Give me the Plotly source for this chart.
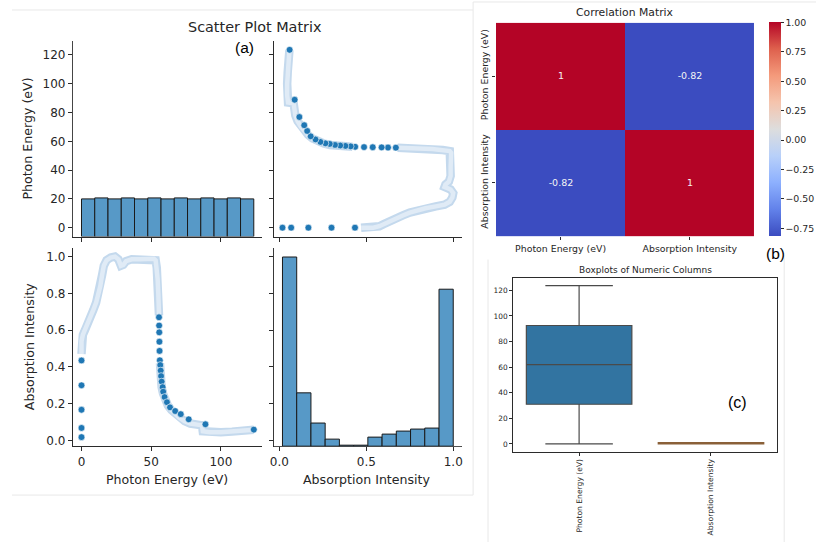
import numpy as np
import plotly.graph_objects as go

W, H = 817, 543

# ---------------- data ----------------
# isolated (sparse) observations
photon_energy_dots = [0.0, 0.0, 0.0, 0.0, 0.0,
                      55.6, 55.7, 55.8, 55.9, 56.0, 56.2,
                      56.5, 56.8, 57.1, 57.5, 58.2, 58.6, 59.6, 61.3, 63.5,
                      67.2, 71.2, 76.9, 88.9, 123.6]
absorption_dots = [0.018, 0.068, 0.167, 0.300, 0.435,
                   0.670, 0.625, 0.588, 0.537, 0.487, 0.436,
                   0.410, 0.380, 0.350, 0.320, 0.290, 0.265, 0.236, 0.208, 0.180,
                   0.160, 0.143, 0.115, 0.088, 0.059]

# densely sampled part of the curve (overlapping markers -> pale band)
photon_energy_band = [0.0, 0.0, 1.0, 2.5, 4.5, 6.5, 8.5, 10.5, 12.0, 13.5, 14.8, 16.0,
                      18.0, 21.0, 24.0, 26.5, 28.3, 30.0, 32.0, 36.0, 42.0, 48.0,
                      52.0, 53.2, 54.0, 54.6, 55.1, 55.4, 55.6, None,
                      56.3, 56.5, 56.8, 57.5, 58.5, 60.0, 62.0, 64.5, 67.0, 70.0,
                      74.0, 78.0, 83.0, 86.5, 87.0, 92.0, 100.0, 108.0, 116.0, 123.6]
absorption_band = [0.47, 0.54, 0.575, 0.60, 0.63, 0.67, 0.71, 0.75, 0.79, 0.84, 0.90, 0.95,
                   0.98, 0.995, 1.0, 0.985, 0.95, 0.955, 0.975, 0.985, 0.985, 0.985,
                   0.988, 0.98, 0.94, 0.88, 0.80, 0.72, 0.68, None,
                   0.42, 0.37, 0.33, 0.29, 0.255, 0.22, 0.19, 0.165, 0.145, 0.125,
                   0.105, 0.092, 0.086, 0.082, 0.05, 0.045, 0.045, 0.048, 0.052, 0.058]

# diagonal histograms
pe_min, pe_max = 0.0, 123.6
pe_counts = [38, 39, 38, 39, 38, 39, 38, 39, 38, 39, 38, 39, 38]
ab_min, ab_max = 0.018, 1.0
ab_counts = [188, 53, 23, 7, 1, 1, 9, 12, 15, 17, 18, 156]

# correlation matrix
columns = ["Photon Energy (eV)", "Absorption Intensity"]
corr = [[1.0, -0.82], [-0.82, 1.0]]

# boxplot statistics
box_q1 = [31.0, 0.06]
box_median = [62.0, 0.19]
box_q3 = [92.5, 0.97]
box_low = [0.0, 0.018]
box_high = [123.6, 1.0]
box_colors = ["#3274a1", "#e1812c"]
box_edges = ["#4a4a4a", "#8a6038"]

# ---------------- helpers ----------------
def dx(a, b):
    return [a / W, b / W]

def dy(top, bottom):
    return [1 - bottom / H, 1 - top / H]

pe_rng = [pe_min - 0.05 * (pe_max - pe_min), pe_max + 0.05 * (pe_max - pe_min)]
ab_rng = [ab_min - 0.05 * (ab_max - ab_min), ab_max + 0.05 * (ab_max - ab_min)]
hist_top = 1.05 * max(max(ab_counts), max(pe_counts))

TXT = "#262626"
FONT = "DejaVu Sans"
AX = "#2b2b2b"

def pair_axis(domain, rng, anchor, tickvals, labels, fmt=None):
    d = dict(domain=domain, range=rng, anchor=anchor, showline=True, linecolor=AX,
             linewidth=1.1, ticks="outside", ticklen=4, tickwidth=1, tickcolor=AX,
             showgrid=False, zeroline=False, tickvals=tickvals, showticklabels=labels,
             tickfont=dict(family=FONT, size=12, color=TXT))
    if fmt:
        d["tickformat"] = fmt
    return d

fig = go.Figure()

pe_ticks = [0, 50, 100]
pe_yticks = [0, 20, 40, 60, 80, 100, 120]
ab_ticks = [0.0, 0.5, 1.0]
ab_yticks = [0.0, 0.2, 0.4, 0.6, 0.8, 1.0]

TOP = dy(41, 237)
BOT = dy(248, 447)
LEFT = dx(69.3, 260)
RIGHT = dx(271.6, 460.6)

layout = dict(
    width=W, height=H, margin=dict(l=0, r=0, t=0, b=0),
    paper_bgcolor="white", plot_bgcolor="white", showlegend=False,
    xaxis=pair_axis(LEFT, pe_rng, "y", pe_ticks, False),
    yaxis=pair_axis(TOP, pe_rng, "x", pe_yticks, True),
    xaxis2=pair_axis(RIGHT, ab_rng, "y2", ab_ticks, False),
    yaxis2=pair_axis(TOP, pe_rng, "x2", pe_yticks, False),
    xaxis3=pair_axis(LEFT, pe_rng, "y3", pe_ticks, True),
    yaxis3=pair_axis(BOT, ab_rng, "x3", ab_yticks, True, ".1f"),
    xaxis4=pair_axis(RIGHT, ab_rng, "y4", ab_ticks, True, ".1f"),
    yaxis4=pair_axis(BOT, ab_rng, "x4", ab_yticks, False),
    yaxis5=dict(domain=TOP, anchor="x", range=[0, hist_top], visible=False),
    yaxis6=dict(domain=BOT, anchor="x4", range=[0, hist_top], visible=False),
)

# empty traces so the diagonal panels keep their shared axes
fig.add_trace(go.Scatter(x=[], y=[], xaxis="x", yaxis="y", hoverinfo="skip"))
fig.add_trace(go.Scatter(x=[], y=[], xaxis="x4", yaxis="y4", hoverinfo="skip"))

# histograms
pe_edges = np.linspace(pe_min, pe_max, len(pe_counts) + 1)
ab_edges = np.linspace(ab_min, ab_max, len(ab_counts) + 1)
bar_style = dict(marker=dict(color="#5799c7", line=dict(color="#1a1a1a", width=1)))
fig.add_trace(go.Bar(x=(pe_edges[:-1] + pe_edges[1:]) / 2, y=pe_counts,
                     width=np.diff(pe_edges), xaxis="x", yaxis="y5", **bar_style))
fig.add_trace(go.Bar(x=(ab_edges[:-1] + ab_edges[1:]) / 2, y=ab_counts,
                     width=np.diff(ab_edges), xaxis="x4", yaxis="y6", **bar_style))

# scatter panels
def add_scatter(xs_band, ys_band, xs_dot, ys_dot, xa, ya):
    fig.add_trace(go.Scatter(x=xs_band, y=ys_band, mode="lines", xaxis=xa, yaxis=ya,
                             line=dict(color="#c4d9ed", width=8.5), connectgaps=False,
                             hoverinfo="skip"))
    fig.add_trace(go.Scatter(x=xs_band, y=ys_band, mode="lines", xaxis=xa, yaxis=ya,
                             line=dict(color="#e0ebf6", width=4.5), connectgaps=False,
                             hoverinfo="skip"))
    fig.add_trace(go.Scatter(x=xs_dot, y=ys_dot, mode="markers", xaxis=xa, yaxis=ya,
                             marker=dict(color="#1f77b4", size=6.8,
                                         line=dict(color="white", width=0.6))))

add_scatter(absorption_band, photon_energy_band, absorption_dots, photon_energy_dots, "x2", "y2")
add_scatter(photon_energy_band, absorption_band, photon_energy_dots, absorption_dots, "x3", "y3")

# correlation heatmap
coolwarm = [[0.0, "#3b4cc0"], [0.125, "#6282ea"], [0.25, "#8db0fe"], [0.375, "#b8d0f9"],
            [0.5, "#dddddd"], [0.625, "#f5c4ad"], [0.75, "#f49a7b"], [0.875, "#de604d"],
            [1.0, "#b40426"]]
zmin = min(min(r) for r in corr)
fig.add_trace(go.Heatmap(
    z=corr, x=columns, y=columns, xaxis="x7", yaxis="y7",
    colorscale=coolwarm, zmin=zmin, zmax=1.0,
    text=[[f"{v:.2g}" for v in r] for r in corr], texttemplate="%{text}",
    textfont=dict(family=FONT, size=9.5, color="#f4f4f4"),
    colorbar=dict(x=770 / W, xanchor="left", xpad=0, ypad=0, thickness=12,
                  lenmode="fraction", len=(236.7 - 22.7) / H,
                  y=1 - (22.7 + 236.7) / 2 / H, yanchor="middle", outlinewidth=0,
                  tickvals=[-0.75, -0.5, -0.25, 0, 0.25, 0.5, 0.75, 1.0], tickformat=".2f",
                  ticks="outside", ticklen=3, tickcolor=AX,
                  tickfont=dict(family=FONT, size=9.4, color=TXT))))
layout["xaxis7"] = dict(domain=dx(495, 755), anchor="y7", ticks="outside", ticklen=3,
                        tickcolor=AX, showgrid=False, zeroline=False, showline=False,
                        tickfont=dict(family=FONT, size=9.4, color=TXT))
layout["yaxis7"] = dict(domain=dy(22.7, 236.7), anchor="x7", autorange="reversed",
                        ticks="outside", ticklen=3, tickcolor=AX, tickangle=-90,
                        showgrid=False, zeroline=False, showline=False,
                        tickfont=dict(family=FONT, size=9.4, color=TXT))

# boxplots
for i in range(len(columns)):
    fig.add_trace(go.Box(x=[columns[i]], q1=[box_q1[i]], median=[box_median[i]],
                         q3=[box_q3[i]], lowerfence=[box_low[i]], upperfence=[box_high[i]],
                         xaxis="x8", yaxis="y8", fillcolor=box_colors[i],
                         line=dict(color=box_edges[i], width=1.2), whiskerwidth=0.64,
                         width=0.8, boxpoints=False))
layout["xaxis8"] = dict(domain=dx(512.3, 777.7), anchor="y8", type="category",
                        range=[-0.5, 1.5], showline=True, mirror=True, linecolor=AX,
                        linewidth=1, ticks="outside", ticklen=3, tickcolor=AX,
                        tickangle=-90, showgrid=False, zeroline=False,
                        tickfont=dict(family=FONT, size=7.6, color=TXT))
layout["yaxis8"] = dict(domain=dy(278.3, 452.7), anchor="x8", range=pe_rng,
                        showline=True, mirror=True, linecolor=AX, linewidth=1,
                        ticks="outside", ticklen=3, tickcolor=AX, tickvals=pe_yticks,
                        showgrid=False, zeroline=False,
                        tickfont=dict(family=FONT, size=7.4, color=TXT))

fig.update_layout(**layout)

# ---------------- text ----------------
def note(text, px, py, size, family=FONT, angle=0, color=TXT):
    fig.add_annotation(text=text, x=px / W, y=1 - py / H, xref="paper", yref="paper",
                       showarrow=False, textangle=angle, xanchor="center", yanchor="middle",
                       font=dict(family=family, size=size, color=color))

note("Scatter Plot Matrix", 253, 27, 14.4)
note("Photon Energy (eV)", 24, 139, 12.6, angle=-90)
note("Absorption Intensity", 26, 347, 12.6, angle=-90)
note("Photon Energy (eV)", 164, 480, 12.6)
note("Absorption Intensity", 365, 480, 12.6)
note("Correlation Matrix", 625, 13, 10.8)
note("Boxplots of Numeric Columns", 645, 270, 9.0)
note("(a)", 242, 48, 15.5, family="Liberation Sans", color="black")
note("(b)", 776, 254, 15.5, family="Liberation Sans", color="black")
note("(c)", 738, 403, 16, family="Liberation Sans", color="black")

# faint panel frames
frame = dict(color="#e8e8e8", width=1)
def line(x0, y0, x1, y1):
    fig.add_shape(type="line", xref="paper", yref="paper", x0=x0 / W, x1=x1 / W,
                  y0=1 - y0 / H, y1=1 - y1 / H, line=frame, layer="below")

line(8, 10, 472, 10)
line(8, 496, 472, 496)
line(472, 2, 472, 496)
line(472, 2, 817, 2)
line(487, 260, 487, 543)
line(785, 258, 785, 543)

fig.write_html("out.html")
